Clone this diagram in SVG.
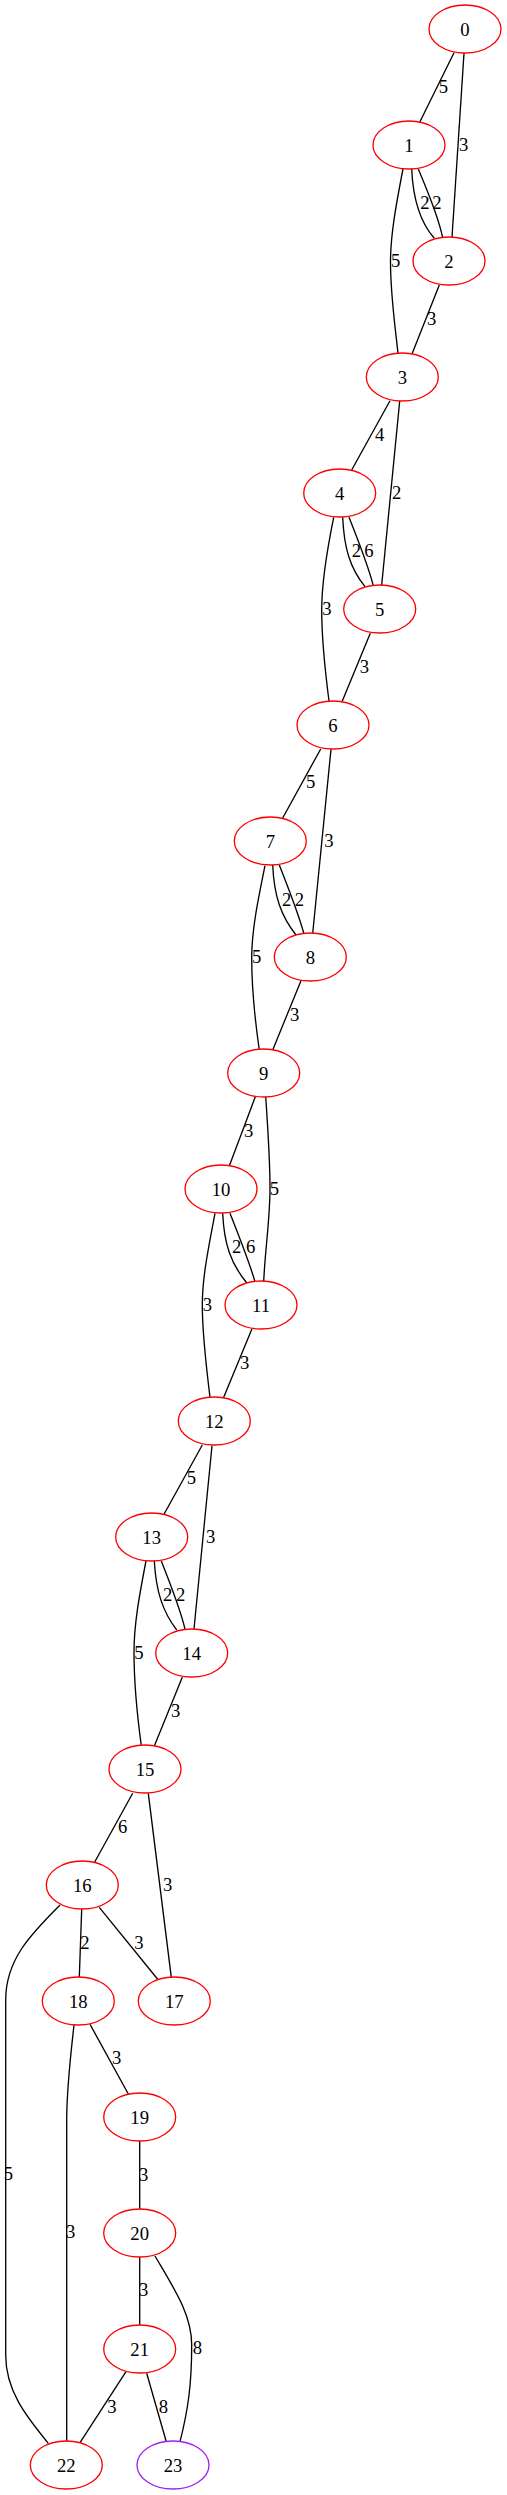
<svg xmlns="http://www.w3.org/2000/svg" width="507" height="2495" viewBox="0 0 507 2495">
<style>
.n ellipse{fill:#fff;stroke:#ff0000;stroke-width:1.33}
.n.p ellipse{stroke:#a020f0}
text{font-family:"Liberation Serif","Times New Roman",serif;font-size:18.67px;text-anchor:middle;fill:#000}
#edges path{fill:none;stroke:#000;stroke-width:1.33}
</style>
<rect width="507" height="2495" fill="#fff"/>
<g id="edges">
<path d="M454,52.7 L419.7,122.3"/><text x="443.5" y="93">5</text>
<path d="M464,53.3 L452,237.3"/><text x="463.7" y="150.8">3</text>
<path d="M411.7,169 C413,200 420,222 434.3,238.3"/><text x="425" y="208.5">2</text>
<path d="M418.3,169 C425,185 438,215 442.7,237.7"/><text x="437" y="208.5">2</text>
<path d="M403,169 C396,205 390.5,235 390.5,262 C390.5,295 395,325 398,353.3"/><text x="395.7" y="266.5">5</text>
<path d="M439.3,285 L412,354"/><text x="431.7" y="324.8">3</text>
<path d="M390,400.7 L351.7,470"/><text x="379.7" y="440.8">4</text>
<path d="M399.7,401 L381.7,585"/><text x="396.7" y="499.2">2</text>
<path d="M342.7,517.3 C344,548 350,568 365,586.7"/><text x="356.3" y="556.5">2</text>
<path d="M349,517.3 C356,535 368,565 373.3,585.7"/><text x="369" y="556.5">6</text>
<path d="M333.7,517.3 C326,555 321.7,582 321.7,610 C321.7,640 325,670 329,701"/><text x="327" y="614.8">3</text>
<path d="M370.3,633.3 L342,701.7"/><text x="364.3" y="672.5">3</text>
<path d="M320.7,749 L282.7,818"/><text x="310.7" y="788.2">5</text>
<path d="M331,749.3 L312.7,933.3"/><text x="329" y="847.2">3</text>
<path d="M272.7,865 C274,896 281,916 296,935"/><text x="286.7" y="905.5">2</text>
<path d="M279.3,865 C286,882 298,912 304,934"/><text x="299.3" y="905.5">2</text>
<path d="M265,865.7 C258,900 251.7,930 251.7,958 C251.7,990 255,1020 259.3,1050"/><text x="256.7" y="962.5">5</text>
<path d="M301,980.7 L272.7,1050"/><text x="294.7" y="1020.8">3</text>
<path d="M255.3,1096.7 L229.3,1166"/><text x="248.7" y="1136.5">3</text>
<path d="M265.7,1096.7 C268,1130 270,1160 270,1188 C270,1220 265,1250 263.7,1281.7"/><text x="274.3" y="1194.8">5</text>
<path d="M222.7,1213.3 C224,1244 231,1264 246.7,1282.7"/><text x="236.7" y="1252.5">2</text>
<path d="M230,1213.3 C237,1231 249,1261 255,1281.7"/><text x="250.7" y="1252.5">6</text>
<path d="M215,1213.3 C208,1250 202.3,1278 202.3,1305 C202.3,1335 206,1365 210,1397.3"/><text x="207.3" y="1310.5">3</text>
<path d="M252,1328.7 L223.3,1398.3"/><text x="244.7" y="1368.8">3</text>
<path d="M202.3,1445 L164,1514.3"/><text x="191.3" y="1484.2">5</text>
<path d="M212,1445.7 L194,1629"/><text x="210.7" y="1542.5">3</text>
<path d="M154.3,1561 C156,1592 163,1612 176.7,1630"/><text x="167.7" y="1600.8">2</text>
<path d="M161.3,1561 C168,1578 180,1608 185,1629"/><text x="180.7" y="1600.8">2</text>
<path d="M146,1561 C139,1597 134,1625 134,1652 C134,1683 137,1714 141.3,1745.7"/><text x="139" y="1658.8">5</text>
<path d="M182.3,1677.3 L154.3,1746"/><text x="175.7" y="1716.5">3</text>
<path d="M132.7,1793.3 L94.7,1862"/><text x="122.7" y="1832.5">6</text>
<path d="M148.3,1793.3 L171.3,1977.3"/><text x="167.7" y="1890.5">3</text>
<path d="M99.3,1907.3 L158.3,1980"/><text x="139" y="1948.5">3</text>
<path d="M81.7,1909.3 L79.3,1977.3"/><text x="85" y="1948.5">2</text>
<path d="M60,1905 C30,1935 5.7,1960 5.7,2000 L5.7,2355 C5.7,2390 25,2415 48.3,2443.3"/><text x="8.5" y="2179.8">5</text>
<path d="M90,2024.3 L128.3,2094"/><text x="116.7" y="2063.8">3</text>
<path d="M74,2025 C70,2060 66.7,2090 66.7,2120 L66.7,2441.7"/><text x="70.7" y="2238.2">3</text>
<path d="M139.7,2141 L139.7,2209"/><text x="143.7" y="2180.5">3</text>
<path d="M139.7,2257 L139.7,2325"/><text x="143.7" y="2296.2">3</text>
<path d="M155,2256 C175,2290 191.7,2315 191.7,2345 C191.7,2385 188,2410 180,2441.7"/><text x="197.3" y="2354.2">8</text>
<path d="M126,2371.7 L80,2442.7"/><text x="112" y="2412.5">3</text>
<path d="M146.7,2373.3 L166.3,2441.7"/><text x="163.3" y="2412.5">8</text>
</g>
<g id="node0" class="n"><ellipse cx="465" cy="29" rx="36" ry="24"/><text x="465" y="35.5">0</text></g>
<g id="node1" class="n"><ellipse cx="409" cy="145" rx="36" ry="24"/><text x="409" y="151.5">1</text></g>
<g id="node2" class="n"><ellipse cx="449" cy="261" rx="36" ry="24"/><text x="449" y="267.5">2</text></g>
<g id="node3" class="n"><ellipse cx="402.3" cy="377" rx="36" ry="24"/><text x="402.3" y="383.5">3</text></g>
<g id="node4" class="n"><ellipse cx="339.7" cy="493" rx="36" ry="24"/><text x="339.7" y="499.5">4</text></g>
<g id="node5" class="n"><ellipse cx="379.7" cy="609" rx="36" ry="24"/><text x="379.7" y="615.5">5</text></g>
<g id="node6" class="n"><ellipse cx="333" cy="725" rx="36" ry="24"/><text x="333" y="731.5">6</text></g>
<g id="node7" class="n"><ellipse cx="270.3" cy="841" rx="36" ry="24"/><text x="270.3" y="847.5">7</text></g>
<g id="node8" class="n"><ellipse cx="310.3" cy="957" rx="36" ry="24"/><text x="310.3" y="963.5">8</text></g>
<g id="node9" class="n"><ellipse cx="263.7" cy="1073" rx="36" ry="24"/><text x="263.7" y="1079.5">9</text></g>
<g id="node10" class="n"><ellipse cx="221" cy="1189" rx="36" ry="24"/><text x="221" y="1195.5">10</text></g>
<g id="node11" class="n"><ellipse cx="261" cy="1305" rx="36" ry="24"/><text x="261" y="1311.5">11</text></g>
<g id="node12" class="n"><ellipse cx="214.3" cy="1421" rx="36" ry="24"/><text x="214.3" y="1427.5">12</text></g>
<g id="node13" class="n"><ellipse cx="151.7" cy="1537" rx="36" ry="24"/><text x="151.7" y="1543.5">13</text></g>
<g id="node14" class="n"><ellipse cx="191.7" cy="1653" rx="36" ry="24"/><text x="191.7" y="1659.5">14</text></g>
<g id="node15" class="n"><ellipse cx="145" cy="1769" rx="36" ry="24"/><text x="145" y="1775.5">15</text></g>
<g id="node16" class="n"><ellipse cx="82.3" cy="1885" rx="36" ry="24"/><text x="82.3" y="1891.5">16</text></g>
<g id="node17" class="n"><ellipse cx="174.3" cy="2001" rx="36" ry="24"/><text x="174.3" y="2007.5">17</text></g>
<g id="node18" class="n"><ellipse cx="78.3" cy="2001" rx="36" ry="24"/><text x="78.3" y="2007.5">18</text></g>
<g id="node19" class="n"><ellipse cx="139.7" cy="2117" rx="36" ry="24"/><text x="139.7" y="2123.5">19</text></g>
<g id="node20" class="n"><ellipse cx="139.7" cy="2233" rx="36" ry="24"/><text x="139.7" y="2239.5">20</text></g>
<g id="node21" class="n"><ellipse cx="139.7" cy="2349" rx="36" ry="24"/><text x="139.7" y="2355.5">21</text></g>
<g id="node22" class="n"><ellipse cx="66.3" cy="2465" rx="36" ry="24"/><text x="66.3" y="2471.5">22</text></g>
<g id="node23" class="n p"><ellipse cx="173" cy="2465" rx="36" ry="24"/><text x="173" y="2471.5">23</text></g>
</svg>
